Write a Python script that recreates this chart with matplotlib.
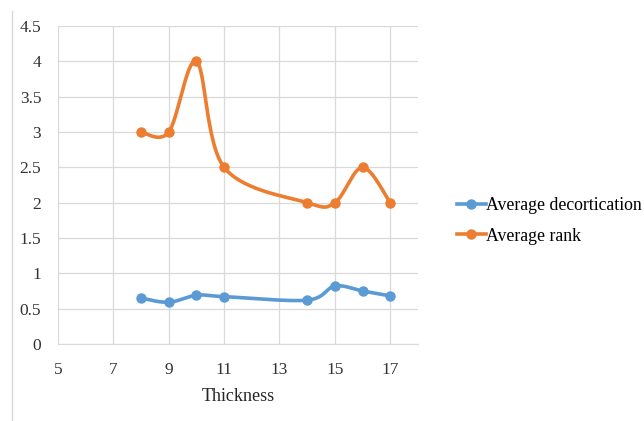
import numpy as np
import matplotlib.pyplot as plt
from matplotlib.lines import Line2D

# Thickness measurements and averages
thickness = [8, 9, 10, 11, 14, 15, 16, 17]
avg_decortication = [0.65, 0.59, 0.69, 0.67, 0.62, 0.82, 0.75, 0.68]
avg_rank = [3, 3, 4, 2.5, 2, 2, 2.5, 2]

x_ticks = [5, 7, 9, 11, 13, 15, 17]
y_ticks = [0, 0.5, 1, 1.5, 2, 2.5, 3, 3.5, 4, 4.5]

blue = '#5B9BD5'
orange = '#ED7D31'


def smooth_path(x, y, steps=30):
    # Catmull-Rom style curve through the points (like a spreadsheet "smoothed line")
    x = np.asarray(x, float)
    y = np.asarray(y, float)
    px = np.concatenate([[x[0]], x, [x[-1]]])
    py = np.concatenate([[y[0]], y, [y[-1]]])
    xs, ys = [], []
    t = np.linspace(0, 1, steps)
    for i in range(1, len(px) - 2):
        p0, p1, p2, p3 = (np.array([px[j], py[j]]) for j in range(i - 1, i + 3))
        c1 = p1 + (p2 - p0) / 6
        c2 = p2 - (p3 - p1) / 6
        b = ((1 - t) ** 3)[:, None] * p1 + (3 * (1 - t) ** 2 * t)[:, None] * c1 \
            + (3 * (1 - t) * t ** 2)[:, None] * c2 + (t ** 3)[:, None] * p2
        xs.extend(b[:, 0])
        ys.extend(b[:, 1])
    return xs, ys


plt.rcParams['font.family'] = ['Liberation Serif', 'DejaVu Serif']

fig = plt.figure(figsize=(6.44, 4.21), dpi=100)
ax = fig.add_axes([0.090, 0.183, 0.559, 0.755])

for ys, col, name in [(avg_decortication, blue, 'Average decortication'),
                      (avg_rank, orange, 'Average rank')]:
    sx, sy = smooth_path(thickness, ys)
    ax.plot(sx, sy, color=col, lw=2.6, solid_capstyle='round')
    ax.plot(thickness, ys, 'o', color=col, ms=6.5)

ax.set_xlim(5, 18)
ax.set_ylim(0, 4.5)
ax.set_xticks(x_ticks)
ax.set_yticks(y_ticks)
ax.set_yticklabels([f'{v:g}' for v in y_ticks])
ax.grid(True, color='#D9D9D9', lw=0.9)
ax.set_axisbelow(True)
for s in ['top', 'right', 'left']:
    ax.spines[s].set_visible(False)
ax.spines['bottom'].set_color('#D9D9D9')
ax.tick_params(length=0, labelsize=12.5, colors='#333333')
ax.tick_params(axis='x', pad=13)
ax.tick_params(axis='y', pad=12)
ax.set_xlabel('Thickness', fontsize=13, color='#262626', labelpad=7)

handles = [Line2D([], [], color=blue, lw=2.6, marker='o', ms=6.5),
           Line2D([], [], color=orange, lw=2.6, marker='o', ms=6.5)]
fig.legend(handles, ['Average decortication', 'Average rank'],
           loc='center left', bbox_to_anchor=(0.685, 0.475), frameon=False,
           fontsize=12.8, handlelength=1.6, handletextpad=0.05, labelspacing=0.75)

# chart-area border on the left
fig.add_artist(Line2D([0.019, 0.019], [0.0, 0.975], color='#D9D9D9', lw=1,
                      transform=fig.transFigure))

fig.savefig('out.png', dpi=100)
